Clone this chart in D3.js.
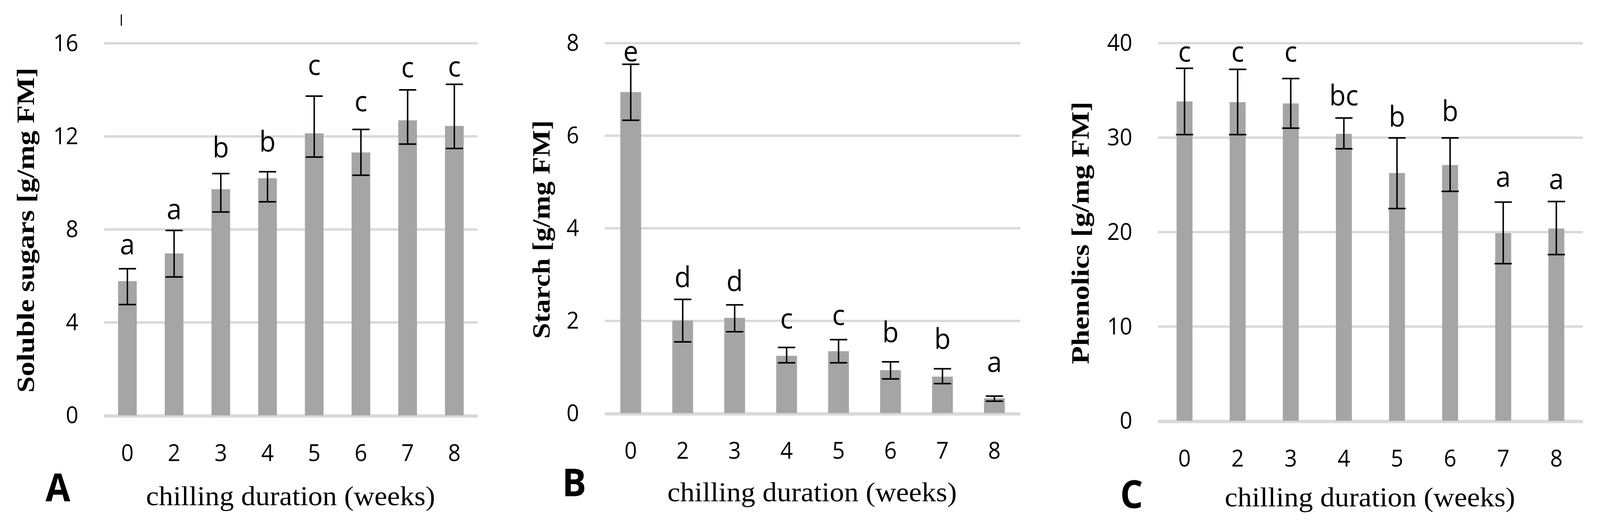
<!DOCTYPE html>
<html>
<head>
<meta charset="utf-8">
<script src="https://cdn.jsdelivr.net/npm/d3@7"></script>
<style>
  html, body { margin: 0; padding: 0; background: #ffffff; overflow: hidden; width: 100%; height: 100%; }
  svg { display: block; width: 100vw; height: 100vh; }
</style>
</head>
<body>
<svg id="chart" viewBox="0 0 4361 1359" preserveAspectRatio="none"></svg>
<script>
// ---------------- data ----------------
const weeks = ["0", "2", "3", "4", "5", "6", "7", "8"];

const sugarMean    = [5.77, 6.96, 9.72, 10.19, 12.12, 11.30, 12.68, 12.44];
const sugarErrHigh = [6.30, 7.95, 10.39, 10.47, 13.72, 12.29, 13.99, 14.23];
const sugarErrLow  = [4.76, 5.95, 8.74, 9.18, 11.10, 10.32, 11.66, 11.47];
const sugarLetters = ["a", "a", "b", "b", "c", "c", "c", "c"];
const sugarLetterAt = [6.92, 8.43, 11.09, 11.33, 14.63, 13.07, 14.53, 14.56];
const sugarTicks = [0, 4, 8, 12, 16];

const starchMean    = [6.94, 2.00, 2.06, 1.24, 1.34, 0.93, 0.79, 0.32];
const starchErrHigh = [7.54, 2.46, 2.34, 1.42, 1.59, 1.11, 0.96, 0.37];
const starchErrLow  = [6.33, 1.54, 1.76, 1.09, 1.09, 0.74, 0.64, 0.26];
const starchLetters = ["e", "d", "d", "c", "c", "b", "b", "a"];
const starchLetterAt = [7.60, 2.72, 2.64, 1.83, 1.90, 1.53, 1.39, 0.89];
const starchTicks = [0, 2, 4, 6, 8];

const phenolMean    = [33.81, 33.74, 33.60, 30.38, 26.23, 27.08, 19.86, 20.36];
const phenolErrHigh = [37.32, 37.21, 36.24, 32.06, 29.95, 29.95, 23.15, 23.22];
const phenolErrLow  = [30.30, 30.30, 30.98, 28.80, 22.47, 24.29, 16.64, 17.60];
const phenolLetters = ["c", "c", "c", "bc", "b", "b", "a", "a"];
const phenolLetterAt = [38.03, 38.03, 38.03, 33.38, 31.13, 31.74, 24.79, 24.51];
const phenolTicks = [0, 10, 20, 30, 40];

const xTitle = "chilling duration (weeks)";

// ---------------- layout ----------------
const panels = [
  { tag: "A", yTitle: "Soluble sugars [g/mg FM]", mean: sugarMean, hi: sugarErrHigh, lo: sugarErrLow,
    letters: sugarLetters, letterAt: sugarLetterAt, ticks: sugarTicks,
    x0: 283.6, x1: 1302, yTop: 110.3, yBot: 1063, barFrac: 0.4,
    yTitleX: 93, yTitleStart: 1005, yTitleEnd: 173,
    xTitleX: 398, xTitleEnd: 1186, xTitleY: 1293,
    tagX: 124, tagY: 1283 },
  { tag: "B", yTitle: "Starch [g/mg FM]", mean: starchMean, hi: starchErrHigh, lo: starchErrLow,
    letters: starchLetters, letterAt: starchLetterAt, ticks: starchTicks,
    x0: 1648.4, x1: 2781.2, yTop: 110, yBot: 1057.5, barFrac: 0.4,
    yTitleX: 1498, yTitleStart: 867, yTitleEnd: 308,
    xTitleX: 1819, xTitleEnd: 2608, xTitleY: 1283,
    tagX: 1532, tagY: 1270 },
  { tag: "C", yTitle: "Phenolics [g/mg FM]", mean: phenolMean, hi: phenolErrHigh, lo: phenolErrLow,
    letters: phenolLetters, letterAt: phenolLetterAt, ticks: phenolTicks,
    x0: 3156.2, x1: 4314.4, yTop: 110, yBot: 1077, barFrac: 0.3,
    yTitleX: 2967, yTitleStart: 932, yTitleEnd: 260,
    xTitleX: 3338, xTitleEnd: 4130, xTitleY: 1296,
    tagX: 3053, tagY: 1300 }
];

const barColor = "#a5a5a5";
const gridColor = "#d9d9d9";
const numFont = "'Open Sans', 'Noto Sans', sans-serif";
const serifFont = "'Liberation Serif', 'DejaVu Serif', serif";

const svg = d3.select("#chart");
svg.append("rect").attr("width", 4361).attr("height", 1359).attr("fill", "#fff");

// small stray tick at top of panel A (present in the original)
svg.append("line").attr("x1", 330.7).attr("x2", 330.7).attr("y1", 37).attr("y2", 66)
  .attr("stroke", "#000").attr("stroke-width", 3);

panels.forEach(p => {
  const g = svg.append("g");
  const pad = 1 - p.barFrac;
  const x = d3.scaleBand().domain(weeks).range([p.x0, p.x1])
    .paddingInner(pad).paddingOuter(pad / 2);
  const ymax = p.ticks[p.ticks.length - 1];
  const y = d3.scaleLinear().domain([0, ymax]).range([p.yBot, p.yTop]);

  // y axis with gridlines
  const yAxis = d3.axisLeft(y).tickValues(p.ticks).tickSize(-(p.x1 - p.x0)).tickPadding(70)
    .tickFormat(d3.format("d"));
  const ya = g.append("g").attr("transform", `translate(${p.x0},0)`).call(yAxis);
  ya.select(".domain").remove();
  ya.selectAll(".tick line").attr("stroke", gridColor).attr("stroke-width", 6);
  ya.selectAll(".tick text").attr("font-family", numFont).attr("font-size", 60)
    .attr("fill", "#000").attr("dy", "0.33em");

  // x axis labels
  const xAxis = d3.axisBottom(x).tickSize(0).tickPadding(74);
  const xa = g.append("g").attr("transform", `translate(0,${p.yBot})`).call(xAxis);
  xa.select(".domain").remove();
  xa.selectAll(".tick text").attr("font-family", numFont).attr("font-size", 60).attr("fill", "#000");

  const rows = weeks.map((w, i) => ({ w, m: p.mean[i], hi: p.hi[i], lo: p.lo[i], l: p.letters[i], la: p.letterAt[i] }));

  // bars
  g.selectAll("rect.bar").data(rows).join("rect").attr("class", "bar")
    .attr("x", d => x(d.w)).attr("width", x.bandwidth())
    .attr("y", d => y(d.m)).attr("height", d => y(0) - y(d.m))
    .attr("fill", barColor);

  // zero line on top of bars
  g.append("line").attr("x1", p.x0).attr("x2", p.x1).attr("y1", y(0) + 3).attr("y2", y(0) + 3)
    .attr("stroke", gridColor).attr("stroke-width", 6);

  // error bars
  const cx = d => x(d.w) + x.bandwidth() / 2;
  const cap = 23.5;
  const eb = g.selectAll("g.err").data(rows).join("g").attr("class", "err")
    .attr("stroke", "#000").attr("stroke-width", 4);
  eb.append("line").attr("x1", cx).attr("x2", cx).attr("y1", d => y(d.lo)).attr("y2", d => y(d.hi));
  eb.append("line").attr("x1", d => cx(d) - cap).attr("x2", d => cx(d) + cap)
    .attr("y1", d => y(d.hi)).attr("y2", d => y(d.hi));
  eb.append("line").attr("x1", d => cx(d) - cap).attr("x2", d => cx(d) + cap)
    .attr("y1", d => y(d.lo)).attr("y2", d => y(d.lo));

  // significance letters
  g.selectAll("text.sig").data(rows).join("text").attr("class", "sig")
    .attr("x", cx).attr("y", d => y(d.la))
    .attr("text-anchor", "middle").attr("font-family", numFont).attr("font-size", 73)
    .attr("fill", "#000").text(d => d.l);

  // y title
  const len = p.yTitleStart - p.yTitleEnd;
  g.append("text")
    .attr("transform", `translate(${p.yTitleX},${p.yTitleStart}) rotate(-90)`)
    .attr("font-family", serifFont).attr("font-weight", "bold").attr("font-size", 68)
    .attr("textLength", len).attr("lengthAdjust", "spacingAndGlyphs")
    .attr("fill", "#000").text(p.yTitle);

  // x title
  g.append("text").attr("x", p.xTitleX).attr("y", p.xTitleY)
    .attr("font-family", serifFont).attr("font-size", 70)
    .attr("textLength", p.xTitleEnd - p.xTitleX).attr("lengthAdjust", "spacingAndGlyphs")
    .attr("fill", "#000").text(xTitle);

  // panel tag
  g.append("text").attr("x", p.tagX).attr("y", p.tagY)
    .attr("font-family", numFont).attr("font-weight", "bold").attr("font-size", 98)
    .attr("fill", "#000").text(p.tag);
});
</script>
</body>
</html>
